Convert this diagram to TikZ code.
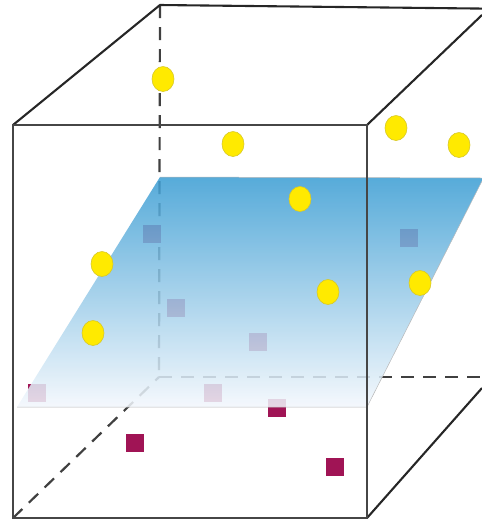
\documentclass[tikz,border=0pt]{standalone}
\definecolor{planetop}{RGB}{59,157,211}
\definecolor{planebot}{RGB}{243,247,252}
\definecolor{dotyellow}{RGB}{255,234,0}
\definecolor{dotedge}{RGB}{215,200,40}
\definecolor{sqcol}{RGB}{160,20,85}
\definecolor{edgecol}{RGB}{70,70,70}
\begin{document}
\begin{tikzpicture}[x=1pt,y=-1pt,
  frontedge/.style={draw=edgecol,line width=2.8pt},
  diag/.style={draw=black!85,line width=2.1pt},
  hidden/.style={draw=black!75,line width=2.2pt,dash pattern=on 13pt off 9pt},
  ball/.style={fill=dotyellow,draw=dotedge,line width=0.6pt},
  sq/.style={fill=sqcol}]
\useasboundingbox (0,0) rectangle (482,523);
\clip (0,0) rectangle (482,523);
% cube corners
\coordinate (FTL) at (13,125);
\coordinate (FTR) at (367,125);
\coordinate (FBL) at (13,518);
\coordinate (FBR) at (367,518);
\coordinate (BTL) at (160,5);
\coordinate (BTR) at (520,9);
\coordinate (BBL) at (159,377);
\coordinate (BRE) at (520,377);
\coordinate (RT) at (482,15);
\coordinate (RB) at (482,388);
% plane corners
\coordinate (P1) at (17,407);
\coordinate (P2) at (367,407);
\coordinate (P3) at (482,181);
\coordinate (P4) at (482,178);
\coordinate (P5) at (160,177);
% hidden edges
\draw[hidden] (BTL) -- (BBL);
\draw[hidden] (BBL) -- (BRE);
\draw[hidden] (FBL) -- (BBL);
% squares
\foreach \x/\y in {152/234,409/238,176/308,258/342,37/393,213/393,277/408,135/443,335/467}
  \fill[sq] (\x-9,\y-9) rectangle (\x+9,\y+9);
% plane
\shade[top color=planetop,bottom color=planebot,fill opacity=0.86]
  (P1) -- (P2) -- (P3) -- (P4) -- (P5) -- cycle;
\draw[draw=gray!55,line width=0.5pt] (P1) -- (P2) -- (P3) (P4) -- (P5) -- cycle;
% visible edges
\draw[diag] (FTL) -- (BTL) -- (BTR);
\draw[diag] (FTR) -- (RT);
\draw[diag] (FBR) -- (RB);
\draw[frontedge] (FTL) -- (FTR) -- (FBR) -- (FBL) -- cycle;
% balls
\foreach \x/\y in {163/79,233/144,396/128,459/145,300/199,102/264,93/333,328/292,420/283}
  \path[ball] (\x,\y) ellipse [x radius=11pt, y radius=12.5pt];
\end{tikzpicture}
\end{document}
